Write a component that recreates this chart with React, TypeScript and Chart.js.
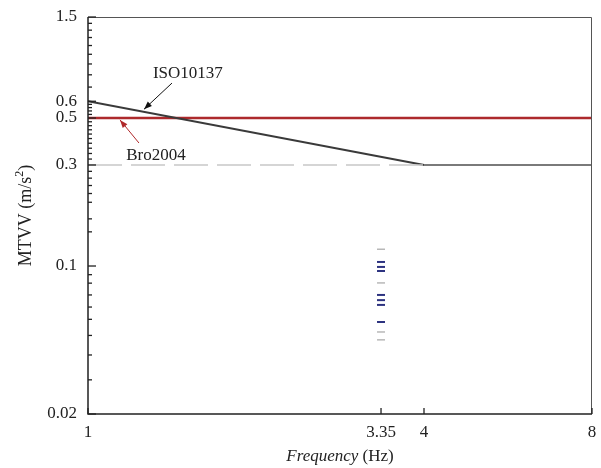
import React, { useEffect, useRef } from 'react';
import { Chart, registerables } from 'chart.js';
Chart.register(...registerables);

// ---- data ----
const isoFreq = [1, 4, 8];
const isoMTVV = [0.6, 0.3, 0.3];
const broFreq = [1, 8];
const broMTVV = [0.5, 0.5];
const refFreq = [1, 4];
const refMTVV = [0.3, 0.3];
const measFreq = 3.35;
const measMTVV = [0.12, 0.1045, 0.099, 0.0947, 0.0832, 0.073, 0.069, 0.0655, 0.0544, 0.0488, 0.0448];
const measKind = ['g', 'b', 'b', 'b', 'g', 'b', 'b', 'b', 'b', 'g', 'g'];
const xTicks = [1, 3.35, 4, 8];
const yMajorTicks = [0.02, 0.1, 0.3, 0.5, 0.6, 1.5];
const yMinorTicks = [
  0.029, 0.038, 0.047, 0.056, 0.064, 0.073, 0.083, 0.091,
  0.145, 0.167, 0.2, 0.22, 0.24, 0.26, 0.28,
  0.32, 0.34, 0.36, 0.38, 0.4, 0.42, 0.44, 0.46, 0.48,
  0.52, 0.54, 0.56, 0.58,
  0.7, 0.8, 0.9, 1.0, 1.1, 1.2, 1.3, 1.4,
];
// annotation label/arrow positions in data coordinates
const isoLabel = { text: 'ISO10137', x: 1.51, y: 0.815 };
const isoArrow = { x0: 1.414, y0: 0.731, x1: 1.26, y1: 0.55 };
const broLabel = { text: 'Bro2004', x: 1.324, y: 0.334 };
const broArrow = { x0: 1.234, y0: 0.381, x1: 1.141, y1: 0.49 };

const FONT = "'Liberation Serif', 'Times New Roman', serif";
const TXT = '#222';

function arrow(ctx: CanvasRenderingContext2D, x0: number, y0: number, x1: number, y1: number, color: string) {
  ctx.save();
  ctx.strokeStyle = color;
  ctx.fillStyle = color;
  ctx.lineWidth = 1;
  ctx.beginPath();
  ctx.moveTo(x0, y0);
  ctx.lineTo(x1, y1);
  ctx.stroke();
  const a = Math.atan2(y1 - y0, x1 - x0);
  const L = 8, W = 3;
  ctx.beginPath();
  ctx.moveTo(x1, y1);
  ctx.lineTo(x1 - L * Math.cos(a) + W * Math.sin(a), y1 - L * Math.sin(a) - W * Math.cos(a));
  ctx.lineTo(x1 - L * Math.cos(a) - W * Math.sin(a), y1 - L * Math.sin(a) + W * Math.cos(a));
  ctx.closePath();
  ctx.fill();
  ctx.restore();
}

const decorPlugin = {
  id: 'decor',
  afterDraw(chart: any) {
    const { ctx, chartArea: ca, scales } = chart;
    const xs = scales.x, ys = scales.y;
    ctx.save();
    // box
    ctx.strokeStyle = '#555';
    ctx.lineWidth = 1;
    ctx.beginPath();
    ctx.moveTo(ca.left, ca.top + 0.5);
    ctx.lineTo(ca.right - 0.5, ca.top + 0.5);
    ctx.lineTo(ca.right - 0.5, ca.bottom);
    ctx.stroke();
    ctx.strokeStyle = '#222';
    ctx.lineWidth = 1.5;
    ctx.beginPath();
    ctx.moveTo(ca.left, ca.top);
    ctx.lineTo(ca.left, ca.bottom);
    ctx.lineTo(ca.right, ca.bottom);
    ctx.stroke();
    // y ticks inward
    ctx.lineWidth = 1.3;
    yMinorTicks.forEach((v) => {
      const y = ys.getPixelForValue(v);
      ctx.beginPath();
      ctx.moveTo(ca.left, y);
      ctx.lineTo(ca.left + 4, y);
      ctx.stroke();
    });
    yMajorTicks.forEach((v) => {
      const y = ys.getPixelForValue(v);
      ctx.beginPath();
      ctx.moveTo(ca.left, y);
      ctx.lineTo(ca.left + 8, y);
      ctx.stroke();
    });
    // x ticks inward
    xTicks.forEach((v) => {
      const x = xs.getPixelForValue(v);
      ctx.beginPath();
      ctx.moveTo(x, ca.bottom);
      ctx.lineTo(x, ca.bottom - 6);
      ctx.stroke();
    });
    // annotations
    ctx.fillStyle = TXT;
    ctx.font = `17px ${FONT}`;
    ctx.textAlign = 'center';
    ctx.textBaseline = 'middle';
    ctx.fillText(isoLabel.text, xs.getPixelForValue(isoLabel.x), ys.getPixelForValue(isoLabel.y));
    ctx.fillText(broLabel.text, xs.getPixelForValue(broLabel.x), ys.getPixelForValue(broLabel.y));
    arrow(ctx, xs.getPixelForValue(isoArrow.x0), ys.getPixelForValue(isoArrow.y0),
      xs.getPixelForValue(isoArrow.x1), ys.getPixelForValue(isoArrow.y1), '#111');
    arrow(ctx, xs.getPixelForValue(broArrow.x0), ys.getPixelForValue(broArrow.y0),
      xs.getPixelForValue(broArrow.x1), ys.getPixelForValue(broArrow.y1), '#b0282a');
    // x title
    const cx = (ca.left + ca.right) / 2;
    const ty = 457;
    ctx.font = `italic 17px ${FONT}`;
    const w1 = ctx.measureText('Frequency').width;
    ctx.font = `17px ${FONT}`;
    const w2 = ctx.measureText(' (Hz)').width;
    let sx = cx - (w1 + w2) / 2;
    ctx.textAlign = 'left';
    ctx.font = `italic 17px ${FONT}`;
    ctx.fillText('Frequency', sx, ty);
    ctx.font = `17px ${FONT}`;
    ctx.fillText(' (Hz)', sx + w1, ty);
    // y title
    ctx.translate(26, (ca.top + ca.bottom) / 2);
    ctx.rotate(-Math.PI / 2);
    ctx.font = `18px ${FONT}`;
    const a = 'MTVV (m/s';
    const wa = ctx.measureText(a).width;
    ctx.font = `12px ${FONT}`;
    const wb = ctx.measureText('2').width;
    ctx.font = `18px ${FONT}`;
    const wc = ctx.measureText(')').width;
    let px = -(wa + wb + wc) / 2;
    ctx.fillText(a, px, 0);
    ctx.font = `12px ${FONT}`;
    ctx.fillText('2', px + wa, -6);
    ctx.font = `18px ${FONT}`;
    ctx.fillText(')', px + wa + wb, 0);
    ctx.restore();
  },
};

export default function App() {
  const ref = useRef<HTMLCanvasElement | null>(null);
  useEffect(() => {
    if (!ref.current) return;
    const allY = [...yMajorTicks, ...yMinorTicks].sort((a, b) => a - b);
    const chart = new Chart(ref.current, {
      type: 'line',
      data: {
        datasets: [
          {
            label: 'ref',
            data: refFreq.map((x, i) => ({ x, y: refMTVV[i] })),
            borderColor: '#c8c8c8',
            borderWidth: 1.5,
            borderDash: [34, 9],
            pointRadius: 0,
          },
          {
            label: 'ISO10137',
            data: isoFreq.map((x, i) => ({ x, y: isoMTVV[i] })),
            borderColor: '#3a3a3a',
            borderWidth: 2,
            pointRadius: 0,
            segment: {
              borderColor: (c: any) => (c.p0DataIndex === 0 ? '#3a3a3a' : '#7a7a7a'),
            },
          },
          {
            label: 'Bro2004',
            data: broFreq.map((x, i) => ({ x, y: broMTVV[i] })),
            borderColor: '#ad2a2c',
            borderWidth: 2.5,
            pointRadius: 0,
          },
          {
            label: 'meas',
            data: measMTVV.map((y) => ({ x: measFreq, y })),
            showLine: false,
            pointStyle: 'line',
            pointRadius: 4,
            pointBorderColor: measKind.map((k) => (k === 'b' ? '#2d3380' : '#b8b8b8')),
            pointBorderWidth: measKind.map((k) => (k === 'b' ? 2 : 1.5)),
            pointBackgroundColor: 'transparent',
          } as any,
        ],
      },
      options: {
        animation: false,
        responsive: false,
        events: [],
        layout: { padding: { top: 17, right: 9, left: 0, bottom: 0 } },
        plugins: { legend: { display: false }, tooltip: { enabled: false } },
        scales: {
          x: {
            type: 'logarithmic',
            min: 1,
            max: 8,
            afterBuildTicks: (s: any) => { s.ticks = xTicks.map((v) => ({ value: v })); },
            afterFit: (s: any) => { s.height = 54; s.paddingLeft = 0; s.paddingRight = 0; },
            ticks: {
              autoSkip: false,
              maxRotation: 0,
              padding: 8,
              color: TXT,
              font: { family: FONT, size: 17 },
              callback: (v: any) => String(v),
            },
            grid: { display: false, drawTicks: false },
            border: { display: false },
          },
          y: {
            type: 'logarithmic',
            min: 0.02,
            max: 1.5,
            afterBuildTicks: (s: any) => { s.ticks = allY.map((v) => ({ value: v })); },
            afterFit: (s: any) => { s.width = 88; s.paddingTop = 0; s.paddingBottom = 0; },
            ticks: {
              autoSkip: false,
              padding: 11,
              color: TXT,
              font: { family: FONT, size: 17 },
              callback: (v: any) => (yMajorTicks.includes(v) ? String(v) : ''),
            },
            grid: { display: false, drawTicks: false },
            border: { display: false },
          },
        },
      },
      plugins: [decorPlugin],
    } as any);
    return () => chart.destroy();
  }, []);
  return (
    <div style={{ position: 'fixed', left: 0, top: 0, width: 601, height: 468, background: '#fff' }}>
      <canvas ref={ref} width={601} height={468} style={{ display: 'block' }} />
    </div>
  );
}
